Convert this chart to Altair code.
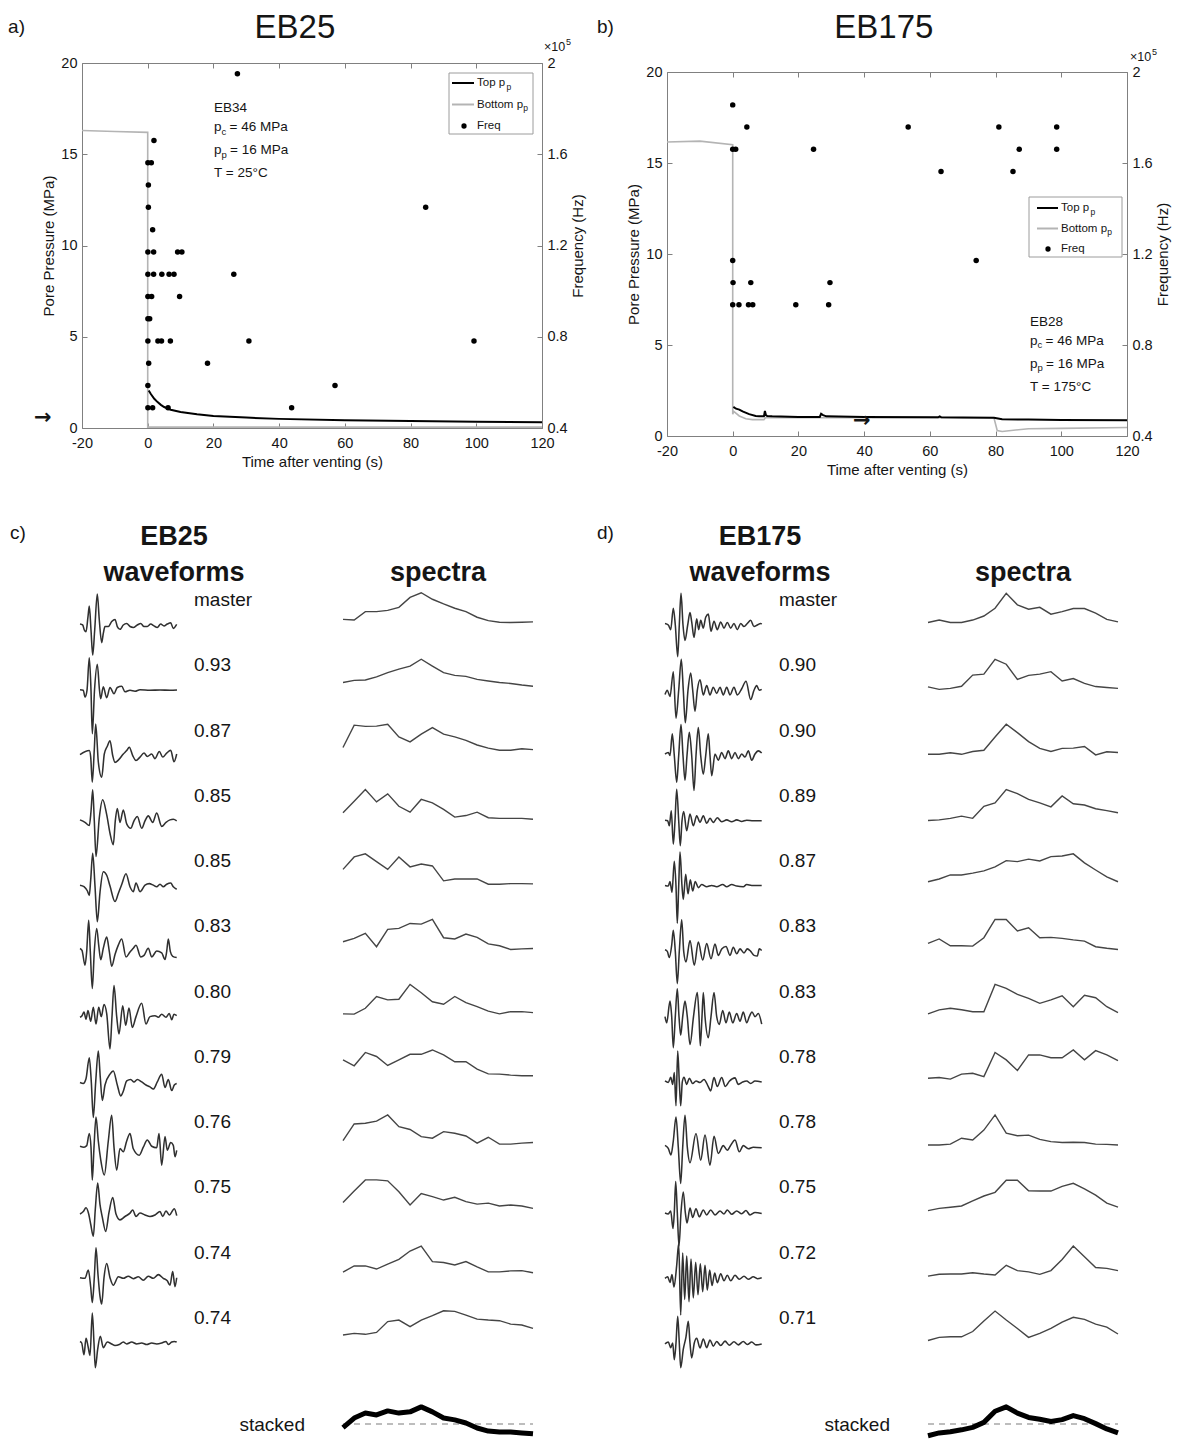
import altair as alt
import pandas as pd

W, H = 1166, 1431
FONT = "Liberation Sans"
INK = "#151515"
AXC = "#808080"
LGRAY = "#b4b4b4"
WAVEC = "#303030"
SPECC = "#454545"
ONE = alt.Data(values=[{"o": 0}])

# ---------------- panel a) EB25 ----------------
a_bottom_t = [-20, -10, 0, 0, 120]
a_bottom_p = [16.3, 16.25, 16.2, 0.05, 0.05]
a_top_t = [0.3, 1, 2, 3, 4, 5, 7, 10, 15, 20, 30, 40, 60, 80, 100, 120]
a_top_p = [2.05, 1.85, 1.6, 1.42, 1.27, 1.15, 1.0, 0.88, 0.75, 0.66, 0.57, 0.5, 0.43, 0.38, 0.34, 0.31]
a_freq_t = [27.3, 1.9, 0.05, 1.1, 0.2, 0.2, 1.5, 0.05, 1.8, 9.1, 10.4, 0.05, 1.8, 4.3, 6.5, 8.0, 26.2,
            0.05, 1.2, 9.7, 0.05, 0.6, 0.05, 3.1, 4.2, 6.9, 30.8, 99.3, 0.3, 18.2, 0.05, 57.0, 84.6,
            0.05, 1.5, 6.2, 43.8]
a_freq_hz = [195313, 166016, 156250, 156250, 146484, 136719, 126953, 117188, 117188, 117188, 117188,
             107422, 107422, 107422, 107422, 107422, 107422, 97656, 97656, 97656, 87891, 87891,
             78125, 78125, 78125, 78125, 78125, 78125, 68359, 68359, 58594, 58594, 136719,
             48828, 48828, 48828, 48828]

# ---------------- panel b) EB175 ----------------
b_bottom_t = [-20, -10, 0, 0, 0.3, 2, 4, 6, 9.5, 10, 12, 20, 27, 40, 60, 79.5, 80.5, 82, 90, 100, 120]
b_bottom_p = [16.15, 16.2, 16.0, 1.2, 1.35, 1.1, 0.95, 0.9, 0.9, 1.0, 1.0, 1.0, 1.0, 1.0, 1.0, 1.0,
              0.3, 0.25, 0.4, 0.42, 0.47]
b_top_t = [0.2, 1, 2, 3, 5, 7, 8, 9.5, 9.8, 10.1, 10.5, 12, 20, 26.5, 26.9, 27.5, 28.5, 40, 62.5, 63,
           63.5, 70, 79.5, 82, 90, 100, 120]
b_top_p = [1.6, 1.5, 1.45, 1.35, 1.2, 1.1, 1.08, 1.08, 1.38, 1.15, 1.1, 1.08, 1.05, 1.05, 1.22, 1.15,
           1.08, 1.05, 1.03, 1.08, 1.03, 1.02, 1.0, 0.92, 0.9, 0.88, 0.87]
b_freq_t = [0, 4.3, 53.4, 81, 98.6, 0, 0.9, 24.6, 87.2, 98.6, 63.4, 85.3, 0, 74.1, 0.1, 5.5, 29.6,
            0, 1.9, 4.8, 6.1, 19.2, 29.2]
b_freq_hz = [185547, 175781, 175781, 175781, 175781, 166016, 166016, 166016, 166016, 166016,
             156250, 156250, 117188, 117188, 107422, 107422, 107422, 97656, 97656, 97656, 97656,
             97656, 97656]

legend_names = ["Top p", "Bottom p", "Freq"]

# ---------------- panel c) EB25 waveforms (x in samples, amplitude) ----------------
wc0 = [(0,0.3),(2.7,0),(4.3,-1.6),(6,-2.2),(8,2.7),(9.3,6.1),(11,-1.6),(12.7,-9.7),(14.7,-1.6),(17.3,10),(19.3,1.6),(21.7,-5.7),(23.3,-2.7),(25,-0.5),(28.3,-0.5),(31.7,1.1),(35,1.8),(37.3,-0.5),(40,-1.4),(43.3,0),(46.7,0.5),(50,-0.5),(53.3,-0.8),(57.3,0),(60.7,0.5),(64,-0.5),(67.3,-0.5),(70.7,0.3),(74,-0.3),(77.3,-0.8),(80.7,0.3),(84,-0.3),(87.3,0.3),(90.7,0.7),(93.3,-1.1),(95.3,-0.5),(96.7,0.2)]
wc1 = [(0,0.2),(3.3,0),(5,-2.2),(7,0),(9.3,10.5),(11,0),(12.3,-14),(14.5,0),(17.3,8.4),(19.5,0),(20.7,-2.7),(23.3,1.1),(26.7,-2.4),(30,0.9),(34,-1.1),(37.3,0.9),(41.7,1.3),(45,-0.5),(50,0),(55,-0.3),(60,0.2),(70,0),(80,0.1),(90,0),(97,0.1)]
wc2 = [(0,0.3),(9.3,1.6),(10.7,-0.5),(12.3,-8.6),(14.3,2),(15.7,10.2),(18.3,-2),(21.7,-7),(24.3,0.5),(27.3,3),(30,4.8),(32.7,0),(35,-2.2),(38.3,-1.5),(43.3,0.5),(46.7,1.6),(49.3,2.7),(52.7,0),(56,-1.6),(60,-0.5),(64,0.8),(67.3,-0.3),(71.7,0.5),(75,-1),(79.3,1.3),(82.7,-0.5),(86.7,0.8),(90.7,1.7),(94,-2),(96.7,0.5)]
wc3 = [(0,0.3),(5,-0.5),(9.3,-1.5),(11,3),(12.7,10),(14.3,0),(16,-11.5),(19.3,1),(22.7,6.8),(26.7,2),(30,-4),(33.3,-7.7),(35.3,0),(37.3,4),(40,-0.5),(43.3,3.5),(46.7,-1),(50.7,-2.4),(54,0),(57.3,1.4),(61.7,-2.4),(65,0),(68.3,1.6),(72.7,-0.5),(76.7,2.5),(81.7,-1.8),(86,-0.5),(90,0.3),(93.3,0.5),(96.7,0)]
wc4 = [(0,0.3),(4,-0.2),(7.3,-1.5),(9.3,-3),(10.7,2),(12.7,10.6),(15,0),(17.3,-11.5),(20,-2),(23.3,4.6),(26.7,3.5),(30,0),(35,-5),(38.3,-2.4),(41.7,0.5),(46,4),(50,-0.2),(53.3,-1.8),(56,1),(60,-1.8),(65,0.3),(69.3,0.8),(73.3,0.3),(76.7,-0.2),(80,0.6),(83.3,-0.2),(86.7,0.6),(90.7,1),(93.3,-0.2),(96.7,-1)]
wc5 = [(0,0.9),(2,0.3),(5,-4.5),(6.7,0),(8.7,10),(10.3,0),(12.3,-12),(14.3,0),(16.7,7.4),(18.7,2),(20.7,-2.7),(23.3,1),(26.7,4.6),(29.3,0),(31.7,-4.8),(35,-1),(38.3,2),(41.7,4),(46,-1.8),(50,-0.2),(53.3,1),(56,2),(60.7,-1.8),(64,-1.3),(68.3,1),(71.7,-1.8),(76.7,0.1),(81.7,-0.5),(85,-2.6),(86.7,0),(88.3,4),(90.3,0),(92.7,-1.6),(96.7,-2)]
wc6 = [(0,-0.2),(2,0.3),(4,1.5),(6,-0.8),(8,2),(10.7,-1.5),(13.3,3),(16,-2.4),(18.7,3),(21.3,0),(24,3.9),(26.7,1),(30,-10.4),(32,0),(34,10),(36.7,0),(39,-5.6),(42.7,3.5),(45.7,-2.8),(49,2.8),(52.3,-3.5),(56,0),(61.7,4.3),(66,-2.4),(70,0),(75,0.3),(78.3,-0.2),(81.7,0.8),(86,-0.2),(89.3,1),(91.7,-1),(94,0.8),(96.7,0.3)]
wc7 = [(0,-0.2),(3.3,-0.5),(6,1),(9.3,7.8),(11.3,0),(13.3,-11.5),(15.7,0),(18.3,10),(20.3,1.4),(22.3,-6),(25,-1),(30,2.5),(33.3,3.5),(37.3,-1),(40.7,-4.5),(43.3,-3),(46.7,0.3),(50.7,0.8),(54,0),(57.3,0.8),(61.7,0),(66,-1),(70,-1.6),(73.3,-2.3),(77.3,0),(81.7,2.5),(85,-1.8),(88.3,0.8),(91.7,-2.8),(94.3,-1),(96.7,-0.5)]
wc8 = [(0,0.3),(4,0),(6.7,0.5),(9.3,4.4),(11,0),(12.3,-10.6),(14,0),(16,9.7),(18.3,2),(20.7,-4),(24.3,-9),(28.3,2),(31.7,10.3),(34,0),(36.7,-7.4),(40,-0.4),(43.3,-1.5),(46.7,2),(50,4.4),(53.3,-0.5),(59.3,-2.6),(63.3,0),(67.3,2.3),(71.7,0.3),(76.7,-0.2),(79,4.4),(81.7,-5.8),(85,3.4),(87.3,-1),(90.7,1.5),(93.3,0.6),(95,-3.1),(96.7,-1)]
wc9 = [(0,-0.5),(3.3,0.3),(6,1.5),(8.7,-0.5),(10.7,-3.8),(13.3,-7.7),(15.3,1),(17.7,9.5),(20,2.5),(22.3,-1.5),(25.7,-6.1),(29,0),(32.7,4.8),(36,-0.5),(40,-2.4),(45,-1.3),(50,-0.2),(52.7,0.8),(56,-1.3),(60,-0.2),(65,-0.8),(70,-1.3),(75,-0.8),(80,0.3),(82.7,-1.3),(86,0.5),(89.3,-0.8),(94.3,1.2),(96.7,-1)]
wc10 = [(0,0),(5,-0.2),(8.3,2.5),(10.7,-3),(12.3,-8),(14.3,0),(16,9.7),(18,1),(20,-6),(21.7,-8.5),(24,0),(26.7,4.6),(30,0),(33.3,-2.4),(38.3,0.3),(43.3,-0.2),(48.3,0.5),(53.3,-0.3),(58.3,0.3),(63.3,-0.8),(68.3,0.5),(73.3,-0.2),(78.3,1),(83.3,-0.2),(87.3,-1),(90,-2.4),(92.7,2),(95,-2.9),(96.7,0)]
wc11 = [(0,0.5),(1.7,0),(4,-3.8),(6,1.5),(8,-1),(10,-4),(12.3,9.7),(14,0),(15.3,-8),(17.7,-2),(20.3,2.2),(23.3,-1.5),(27.3,0.3),(31.7,-0.3),(35,-0.8),(39.3,-0.5),(43.3,0.3),(46.7,-0.3),(51.7,0.3),(56.7,-0.3),(61.7,0),(66.7,-0.5),(71.7,0),(76.7,-0.3),(81.7,0),(86,0.5),(88.3,-0.5),(91.7,0.3),(94.3,0.5),(96.7,0.3)]
waves_c = [wc0, wc1, wc2, wc3, wc4, wc5, wc6, wc7, wc8, wc9, wc10, wc11]

# ---------------- panel d) EB175 waveforms ----------------
wd0 = [(0,0.5),(3.3,0),(5.7,-1.5),(8.3,5.4),(10.3,0),(12.7,-10.2),(14.3,0),(16,10.2),(18,0),(20,-5),(22.7,0),(25,4),(26.7,1),(29,-4),(31.7,2),(33.7,-1.5),(35.7,1.5),(38.3,-1),(40.7,2.5),(43.3,3.5),(46,-2),(49,1.2),(52.3,-1.5),(55.7,1),(59,-1),(62.3,0.8),(65.7,-1),(69,0.5),(72.3,-1.5),(75.7,0.5),(79,-0.5),(82.3,0.5),(85.7,1.5),(89,-0.5),(92.3,0),(95.7,0.5),(96.7,0.3)]
wd1 = [(0,-1.4),(2.3,0),(5,-2),(8.3,6),(11,-9),(13.7,0),(16.3,10),(18.3,0),(20.3,-10.5),(23,0),(25.7,5.6),(27.7,0),(30,-6.8),(32.3,0),(35,3.4),(38.3,-1.5),(41.7,1.5),(45,-1.5),(48.3,1),(51.7,-1),(55,1),(58.3,-1.5),(61.7,1),(65,-1.5),(69,1),(72.3,-1.5),(76.7,0.5),(81,2.9),(85.7,-3),(89,0),(91.7,1.5),(94.3,0),(96.7,0.3)]
wd2 = [(0,0.5),(3.3,1),(5,0),(7.3,7),(9.3,0),(11.7,-8.6),(13.7,0),(16,10),(18,0),(20,-8),(22,0),(24.3,7.5),(26.7,0),(29,-11.3),(31,0),(33.3,9),(35.7,0),(38.3,-6),(40.7,0),(43.3,7),(45,0),(46.7,-6.5),(50,0.5),(53.3,-1.5),(56.7,1),(60,-1),(63.3,1.5),(66.7,-1),(70,1),(73.3,-1),(76.7,0.5),(80,-0.5),(83.3,1.5),(86.7,-1.5),(90,0.5),(93.3,1.5),(96.7,0.8)]
wd3 = [(0,0.2),(2.7,0),(4.3,-1.6),(6.3,3.2),(8.3,-7.5),(10,0),(11.7,10.2),(13.7,0),(15.3,-8),(17,0),(18.7,3),(21.7,-3.2),(25,2.2),(28.3,-1.6),(31.7,1.6),(35,-0.5),(38.3,1.6),(41.7,-0.8),(45,0.8),(48.3,-0.5),(52.3,1),(56.7,-0.3),(61.7,0.3),(66.7,-0.3),(71.7,0.3),(76.7,-0.2),(81.7,0.2),(88.3,0),(96.7,0)]
wd4 = [(0,0.2),(3.3,0),(5,1.5),(7,-2),(9.3,8),(11,0),(12.3,-12),(13.7,0),(15,11),(17,0),(18.3,-4.3),(20.7,3.8),(23,-2.5),(25.3,2),(27.7,-1.6),(30.3,1.5),(33.3,-0.5),(36.7,0.5),(41.7,-0.2),(46.7,0.2),(51.7,-0.2),(57.7,0.5),(61.7,-0.2),(66.7,0.5),(71.7,0),(78.3,-0.2),(81.7,0.5),(86.7,0.2),(96.7,0.2)]
wd5 = [(0,0.5),(2.3,0),(4.3,-2),(6.7,2),(8.3,6.8),(10.3,0),(12.3,-10.4),(14.3,0),(16.7,10.2),(18.7,0),(21,-3.4),(25,3.5),(29.3,-4.5),(33.3,3),(37.7,-2.8),(41.7,2.5),(46,-2.4),(50,2.4),(53.3,-1.3),(56.7,0.8),(61,1.6),(65,-1.3),(68.3,1.3),(71.7,-0.8),(75,0.8),(79,-0.5),(82.3,0.8),(85.7,0),(89,-1.3),(92.3,-1.5),(94.3,0.8),(96.7,0.3)]
wd6 = [(0,0),(1.7,-2),(5,5),(6.7,0),(8.3,-10),(10.3,0),(12.3,9),(14,0),(15.7,-6),(17.7,0),(20,5),(22.3,0),(25,-9),(28.5,0),(32.3,7.8),(34,0),(35.3,-9.4),(37,0),(38.3,7.8),(40,0),(43.3,-6.8),(46,0),(49,7.8),(51.7,0),(54.3,-2.5),(57.7,2),(61,-2),(64.3,1.5),(67.7,-2),(71.7,1),(75,-1.5),(78.3,1.5),(81.7,-2),(84.3,0),(87,1.5),(90,0),(93.3,1),(96.7,-2.4)]
wd7 = [(0,0.3),(3.3,-0.2),(5.7,1.5),(7.7,-0.8),(9.3,3),(11,-7.7),(12.7,10),(14.3,0),(15.7,-7.7),(17.3,0),(19,1.5),(21.7,-0.8),(24.3,1.2),(27.7,-0.5),(31,0.3),(35,-0.2),(39,0.8),(43.3,-1.5),(45.7,-2.9),(49,1.4),(52.3,-1.5),(56.7,1.4),(60.3,-1.5),(64.3,0.2),(70,1.3),(73.3,-0.8),(77.7,0),(81.7,0.3),(85.7,-0.5),(90,0.3),(96.7,0)]
wd8 = [(0,0.6),(3.3,-0.4),(6,-2.5),(8.3,2),(11,9.7),(13.3,0),(15.7,-11.7),(17.7,0),(20,10.3),(22.3,0),(25,-5),(31,4.4),(35.7,-4.2),(40,3.9),(45,-5.8),(49,3.5),(53.3,-2),(58.3,0.5),(62.3,-1),(65,0.2),(70,2.3),(74.3,-1.5),(78.3,0.5),(83.3,-0.5),(88.3,0),(96.7,-0.2)]
wd9 = [(0,-0.2),(3.3,-0.5),(5.7,0.5),(8,-5.2),(9.3,0),(10.7,10),(12.3,0),(14,-10.8),(16,0),(18.3,6.6),(20.3,0),(22,-3.4),(25,1.4),(27.7,-1.6),(31,1.2),(34.3,-1.4),(38.3,0.8),(41.7,-0.8),(45.7,0.8),(50,-0.8),(55,0.5),(59,-0.5),(62.3,0.8),(66.7,-0.6),(71.7,0.5),(76.7,-0.4),(81,0.6),(85,-0.8),(90,0),(96.7,-0.3)]
wd10 = [(0,-0.2),(2.7,0.3),(5,-1.5),(7,1),(9,-3),(11.7,4),(13.7,11),(15.7,-12),(17.7,8),(19.7,-7),(21.7,7),(24,-7.7),(26,6),(28.3,-6.5),(30.7,5),(33,-5.5),(35.3,4.5),(37.7,-4.5),(40,4),(42.3,-4),(44.7,2.5),(47,-2.5),(49.7,1.5),(52.3,-1.6),(55.7,1.3),(59,-1),(62.3,0.8),(65.7,-1),(70,0.8),(74.3,-0.5),(79,0.5),(83.3,-0.5),(88.3,0.3),(92.3,-0.3),(96.7,0)]
wd11 = [(0,-0.3),(3.3,0.3),(5.7,-1.5),(7.7,0),(9.3,-5.4),(11,0),(12.7,8.6),(14.3,0),(15.7,-8),(18.3,-2),(21,2),(23.3,7),(25,0),(26.7,-4.8),(29.3,0),(31.7,1.5),(35,-1.6),(38.3,1.3),(41.7,-1.5),(45,1),(48.3,-1),(51.7,0.5),(55.7,-0.8),(60,0.6),(64.3,-0.7),(69,0.4),(73.3,-0.6),(78.3,0.5),(82.3,-0.5),(86.7,0.3),(91,-0.6),(96.7,-0.3)]
waves_d = [wd0, wd1, wd2, wd3, wd4, wd5, wd6, wd7, wd8, wd9, wd10, wd11]

# ---------------- spectra (18 frequency bins each) ----------------
spectra_c = [
    [1.8,1.6,4.3,4.3,4.7,5.7,8.9,10.4,8.3,6.8,5.4,4.3,2.5,1.4,0.9,0.8,0.9,1.0],
    [2.5,3.2,3.3,4.3,5.7,6.8,7.8,10,7.8,5.7,4.8,4.5,3.5,3.0,2.5,2.2,1.7,1.3],
    [2.6,9.8,9.4,9.5,10.1,6.0,4.4,6.9,9.0,6.9,6.0,4.9,3.4,2.4,1.7,1.7,2.2,1.9],
    [2.6,6.3,10.1,6.1,8.7,4.7,2.8,6.9,5.8,3.7,1.2,1.7,2.8,1.0,0.8,0.8,0.8,0.5],
    [5.4,9.4,10.4,7.9,5.4,9.4,6.2,7.1,6.5,1.7,2.3,2.3,2.3,0.6,0.6,0.8,0.8,0.7],
    [3.1,4.2,5.8,1.5,7.1,7.4,9.0,8.8,10.3,4.4,4.0,5.6,4.5,2.4,1.8,0.6,0.8,0.9],
    [0.9,0.8,2.7,6.5,5.4,5.6,10.4,7.7,4.8,4.0,6.5,4.5,3.2,1.8,0.9,1.6,1.6,1.3],
    [7.1,5.2,9.5,8.2,5.3,7.1,8.9,8.9,10.3,8.7,6.5,6.5,4.1,2.6,2.5,2.2,2.0,2.0],
    [2.1,7.5,7.7,8.4,10.4,6.6,5.7,3.4,2.9,5.0,4.5,3.6,1.3,3.2,1.0,1.0,1.3,1.5],
    [3.2,6.9,10.5,10.5,10.2,6.7,2.4,6.1,5.1,4.0,4.9,3.5,2.7,3.0,2.1,2.4,2.1,1.3],
    [1.8,3.8,3.8,2.8,4.4,5.9,8.6,10.2,5.2,4.9,4.1,5.2,3.5,1.9,1.9,2.2,2.3,1.6],
    [2.6,3.1,2.8,3.4,6.9,7.4,5.3,7.4,8.8,10.4,10.2,9.0,7.7,7.4,7.2,6.1,5.8,4.7],
]
spectra_d = [
    [0.8,1.6,0.8,0.8,1.6,2.9,5.4,10.2,6.5,5.1,5.7,3.5,4.3,5.3,5.3,3.8,1.8,1.0],
    [1.1,0.3,0.6,1.3,4.9,5.2,10.0,8.4,3.5,4.8,5.2,6.0,3.0,3.8,2.2,1.2,0.9,0.6],
    [0.4,0.4,0.9,0.4,1.3,1.7,6.0,10.1,7.4,4.5,2.3,1.3,2.3,2.4,2.9,0.2,1.2,1.0],
    [0.1,0.3,0.8,1.5,0.8,4.7,5.8,10.1,8.8,6.9,5.8,4.5,8.0,5.5,5.1,3.9,3.3,2.6],
    [1.4,2.3,3.6,3.6,4.2,4.9,6.2,8.2,7.9,8.7,8.1,9.5,9.7,10.4,7.5,5.2,3.0,1.4],
    [2.6,4.0,1.8,1.8,1.7,4.4,10.3,10.3,6.6,7.6,4.4,4.5,4.2,3.7,3.3,1.5,1.0,0.6],
    [0.9,2.2,2.7,2.2,1.6,1.6,10.4,9.1,7.2,5.9,4.3,5.4,6.7,3.2,6.9,6.1,3.2,1.3],
    [1.2,1.4,0.9,2.5,2.8,1.7,9.5,7.1,3.7,8.7,8.7,7.8,7.8,10.3,7.1,10.1,8.7,6.9],
    [0.7,0.7,1.0,2.9,2.3,5.5,10.4,4.5,3.7,3.9,2.5,1.8,1.5,1.6,1.5,1.0,0.9,0.7],
    [0.6,1.3,1.7,2.1,3.7,5.3,6.5,10.4,10.4,7.0,6.9,6.9,8.4,9.4,7.6,5.6,3.0,1.7],
    [0.5,1.1,1.2,1.2,1.6,1.2,0.9,4.0,2.3,1.9,1.1,2.3,5.9,10.2,6.8,3.3,3.0,2.3],
    [0.8,1.8,2.0,2.0,3.7,7.1,10.3,7.4,4.7,1.8,3.1,4.7,6.7,8.3,7.6,6.1,5.1,2.9],
]
stacked_c = [-1.2,1.9,3.5,2.9,4.2,3.5,3.9,5.5,3.9,1.9,1.3,0.3,-1.3,-2.3,-2.6,-2.6,-2.9,-3.2]
stacked_d = [-3.8,-2.9,-2.5,-1.9,-1.1,0.5,4.1,5.5,3.5,2.1,1.5,0.8,1.4,2.7,1.7,0.1,-1.6,-2.9]

labels_c = ["master", "0.93", "0.87", "0.85", "0.85", "0.83", "0.80", "0.79", "0.76", "0.75", "0.74", "0.74"]
labels_d = ["master", "0.90", "0.90", "0.89", "0.87", "0.83", "0.83", "0.78", "0.78", "0.75", "0.72", "0.71"]


# ---------------- helpers ----------------
def S(dom, rng):
    return alt.Scale(domain=list(dom), range=list(rng), nice=False, zero=False)


def T(text, x, y, xs, ys, size=13.5, align="left", baseline="middle", weight="normal", dx=0, dy=0,
      color=INK, font=FONT):
    return alt.Chart(ONE).mark_text(
        text=text, font=font, fontSize=size, align=align, baseline=baseline,
        fontWeight=weight, dx=dx, dy=dy, color=color
    ).encode(
        x=alt.XDatum(x, type="quantitative", scale=xs, axis=None),
        y=alt.YDatum(y, type="quantitative", scale=ys, axis=None),
    )


AXSTYLE = dict(domainColor=AXC, tickColor=AXC, labelColor=INK, titleColor=INK, labelFont=FONT,
               titleFont=FONT, labelFontSize=14.5, titleFontSize=15, titleFontWeight="normal",
               grid=False, domainWidth=1, tickWidth=1, labelFlush=False, labelOverlap=False)


def top_panel(P):
    xs = S([-20, 120], [P["xl"], P["xr"]])
    ys = S([0, 20], [P["yb"], P["yt"]])
    fs = S([40000, 200000], [P["yb"], P["yt"]])
    tx = list(range(-20, 121, 20))
    ty = [0, 5, 10, 15, 20]
    tf = [40000, 80000, 120000, 160000, 200000]
    bot = pd.DataFrame({"t": P["bot_t"], "p": P["bot_p"], "i": range(len(P["bot_t"]))})
    top = pd.DataFrame({"t": P["top_t"], "p": P["top_p"], "i": range(len(P["top_t"]))})
    fr = pd.DataFrame({"t": P["f_t"], "f": P["f_hz"]})

    gray = alt.Chart(bot).mark_line(color=LGRAY, strokeWidth=1.6).encode(
        x=alt.X("t:Q", scale=xs, axis=alt.Axis(orient="bottom", offset=P["yb"] - H, values=tx, ticks=False,
                                                labelExpr="'' + datum.value",
                                                labelPadding=8.5, title="Time after venting (s)", titlePadding=4, **AXSTYLE)),
        y=alt.Y("p:Q", scale=ys, axis=alt.Axis(orient="left", offset=-P["xl"], values=ty, ticks=False,
                                                labelPadding=5, title="Pore Pressure (MPa)", titlePadding=4.5, **AXSTYLE)),
        order="i:Q")
    black = alt.Chart(top).mark_line(color="black", strokeWidth=2).encode(
        x=alt.X("t:Q", scale=xs, axis=None), y=alt.Y("p:Q", scale=ys, axis=None), order="i:Q")
    pts = alt.Chart(fr).mark_circle(size=30, color="black", opacity=1).encode(
        x=alt.X("t:Q", scale=xs, axis=alt.Axis(orient="top", offset=-P["yb"], values=tx, labels=False, domain=False,
                                                tickSize=5, title=None, **AXSTYLE)),
        y=alt.Y("f:Q", scale=fs, axis=alt.Axis(orient="right", offset=P["xr"] - W, values=tf, ticks=False,
                                                labelPadding=5, labelExpr="format(datum.value/100000, '~g')",
                                                title="Frequency (Hz)", titleAngle=270, titleBaseline="top",
                                                titlePadding=3.5, **AXSTYLE)))
    frame1 = alt.Chart(bot).mark_point(opacity=0).encode(
        x=alt.X("t:Q", scale=xs, axis=alt.Axis(orient="bottom", offset=P["yt"] - H, values=tx, labels=False,
                                                tickSize=5, title=None, **AXSTYLE)),
        y=alt.Y("p:Q", scale=ys, axis=alt.Axis(orient="right", offset=P["xl"] - W, values=ty, labels=False,
                                                domain=False, tickSize=5, title=None, **AXSTYLE)))
    frame2 = alt.Chart(fr).mark_point(opacity=0).encode(
        x=alt.X("t:Q", scale=xs, axis=None),
        y=alt.Y("f:Q", scale=fs, axis=alt.Axis(orient="left", offset=-P["xr"], values=tf, labels=False,
                                                domain=False, tickSize=5, title=None, **AXSTYLE)))
    layers = [gray, black, pts, frame1, frame2]

    # legend box
    lx = S([0, P["lw"]], [P["lx"], P["lx"] + P["lw"]])
    ly = S([0, P["lh"]], [P["ly"], P["ly"] + P["lh"]])
    lr = S([0, 2], [P["lr0"], P["lr2"]])
    s0, s1, sdot, stxt = P["sym"]
    box = alt.Chart(ONE).mark_rect(fill="white", stroke="#9c9c9c", strokeWidth=1).encode(
        x=alt.XDatum(0, type="quantitative", scale=lx, axis=None), x2=alt.X2Datum(P["lw"]),
        y=alt.YDatum(0, type="quantitative", scale=ly, axis=None), y2=alt.Y2Datum(P["lh"]))
    key_top = alt.Chart(ONE).mark_rule(color="black", strokeWidth=2).encode(
        x=alt.XDatum(s0, type="quantitative", scale=lx, axis=None), x2=alt.X2Datum(s1),
        y=alt.YDatum(0, type="quantitative", scale=lr, axis=None))
    key_bot = alt.Chart(ONE).mark_rule(color=LGRAY, strokeWidth=2).encode(
        x=alt.XDatum(s0, type="quantitative", scale=lx, axis=None), x2=alt.X2Datum(s1),
        y=alt.YDatum(1, type="quantitative", scale=lr, axis=None))
    key_dot = alt.Chart(ONE).mark_circle(size=28, color="black", opacity=1).encode(
        x=alt.XDatum(sdot, type="quantitative", scale=lx, axis=None),
        y=alt.YDatum(2, type="quantitative", scale=lr, axis=None))
    names = alt.Chart(pd.DataFrame({"name": legend_names, "row": [0, 1, 2]})).mark_text(
        align="left", baseline="middle", font=FONT, fontSize=11.5, color=INK).encode(
        x=alt.XDatum(stxt, type="quantitative", scale=lx, axis=None),
        y=alt.Y("row:Q", scale=lr, axis=None), text="name:N")
    sub1 = T("p", stxt, 0, lx, lr, size=8.5, dx=29.6, dy=3.5)
    sub2 = T("p", stxt, 1, lx, lr, size=8.5, dx=46.2, dy=3.5)
    layers += [box, key_top, key_bot, key_dot, names, sub1, sub2]

    # annotation block
    at = P["ann_t"]
    l0, l1, l2, l3 = P["ann_p"]
    layers += [
        T(P["ann_id"], at, l0, xs, ys),
        T("p", at, l1, xs, ys), T("c", at, l1, xs, ys, size=9.5, dx=7.4, dy=4.5), T("= 46 MPa", at, l1, xs, ys, dx=15.5),
        T("p", at, l2, xs, ys), T("p", at, l2, xs, ys, size=9.5, dx=7.4, dy=4.5), T("= 16 MPa", at, l2, xs, ys, dx=16),
        T(P["ann_T"], at, l3, xs, ys),
    ]
    # titles, panel letter, arrow, exponent
    layers += [
        T(P["title"], P["title_t"], P["title_p"], xs, ys, size=33, align="center"),
        T(P["letter"], P["letter_t"], P["letter_p"], xs, ys, size=19),
        T("\u2192", P["arrow_t"], P["arrow_p"], xs, ys, size=21, align="center", weight="bold",
          font="DejaVu Sans"),
        T("\u00d710", P["exp_t"], P["exp_p"], xs, ys, size=12.5),
        T("5", P["exp_t"], P["exp_p"], xs, ys, size=9, dx=22, dy=-5),
    ]
    return layers


def long_waves(waves):
    rows = []
    for r, w in enumerate(waves):
        for i, (x, a) in enumerate(w):
            rows.append({"row": r, "i": i, "x": x, "a": a})
    return pd.DataFrame(rows)


def long_spectra(spec):
    rows = []
    for r, s in enumerate(spec):
        for k, v in enumerate(s):
            rows.append({"row": r, "k": k, "s": v})
    return pd.DataFrame(rows)


def bottom_panel(Q):
    wx = S([0, 100], [Q["wx0"], Q["wx0"] + 100])
    sx = S([0, 17], [Q["sx0"], Q["sx0"] + 190])
    ry = S([0, 11], [617, 1335])
    wave = alt.Chart(long_waves(Q["waves"])).transform_calculate(
        yy="datum.row - datum.a * 0.0475").mark_line(
        interpolate="monotone", color=WAVEC, strokeWidth=1.55).encode(
        x=alt.X("x:Q", scale=wx, axis=None), y=alt.Y("yy:Q", scale=ry, axis=None),
        detail="row:N", order="i:Q")
    spec = alt.Chart(long_spectra(Q["spectra"])).transform_calculate(
        yy="datum.row - datum.s * 0.0475").mark_line(color=SPECC, strokeWidth=1.4).encode(
        x=alt.X("k:Q", scale=sx, axis=None), y=alt.Y("yy:Q", scale=ry, axis=None),
        detail="row:N", order="k:Q")
    labs = alt.Chart(pd.DataFrame({"row": range(12), "label": Q["labels"]})).transform_calculate(
        yy="datum.row - 0.383").mark_text(align="left", baseline="middle", font=FONT, fontSize=19, color=INK).encode(
        x=alt.XDatum(114, type="quantitative", scale=wx, axis=None),
        y=alt.Y("yy:Q", scale=ry, axis=None), text="label:N")
    dash = alt.Chart(ONE).mark_rule(color="#a8a8a8", strokeWidth=1.5, strokeDash=[6, 5]).encode(
        x=alt.XDatum(0, type="quantitative", scale=sx, axis=None), x2=alt.X2Datum(17),
        y=alt.YDatum(12.24, type="quantitative", scale=ry, axis=None))
    stack = alt.Chart(pd.DataFrame({"k": range(18), "s": Q["stacked"]})).transform_calculate(
        yy="12.24 - datum.s * 0.0475").mark_line(color="black", strokeWidth=5, strokeJoin="round").encode(
        x=alt.X("k:Q", scale=sx, axis=None), y=alt.Y("yy:Q", scale=ry, axis=None), order="k:Q")
    return [
        wave, spec, labs, dash, stack,
        T("stacked", 225, 12.26, wx, ry, size=19, align="right"),
        T(Q["name"], Q["hx"], -1.348, wx, ry, size=27, align="center", weight="bold"),
        T("waveforms", Q["hx"], -0.797, wx, ry, size=27, align="center", weight="bold"),
        T("spectra", 8.5, -0.797, sx, ry, size=27, align="center", weight="bold"),
        T(Q["letter"], Q["lx"], -1.41, wx, ry, size=19),
    ]


PA = dict(xl=74, xr=534, yb=420, yt=55, bot_t=a_bottom_t, bot_p=a_bottom_p, top_t=a_top_t, top_p=a_top_p,
          f_t=a_freq_t, f_hz=a_freq_hz, lx=441, lw=84, ly=65, lh=61, lr0=75, lr2=118, sym=(3, 25, 15, 28),
          ann_t=20.2, ann_p=(17.53, 16.49, 15.23, 13.97), ann_id="EB34", ann_T="T = 25\u00b0C",
          title="EB25", title_t=44.8, title_p=21.92, letter="a)", letter_t=-42.5, letter_p=21.97,
          arrow_t=-31.9, arrow_p=0.55, exp_t=120.6, exp_p=20.85)
PB = dict(xl=659, xr=1119, yb=428, yt=64, bot_t=b_bottom_t, bot_p=b_bottom_p, top_t=b_top_t, top_p=b_top_p,
          f_t=b_freq_t, f_hz=b_freq_hz, lx=1021, lw=93, ly=189, lh=60, lr0=200, lr2=241, sym=(8, 29, 19, 32),
          ann_t=90.5, ann_p=(6.26, 5.22, 3.96, 2.69), ann_id="EB28", ann_T="T = 175\u00b0C",
          title="EB175", title_t=46.0, title_p=22.42, letter="b)", letter_t=-41.3, letter_p=22.47,
          arrow_t=39.3, arrow_p=0.82, exp_t=120.9, exp_p=20.85)
QC = dict(wx0=72, sx0=335, waves=waves_c, spectra=spectra_c, stacked=stacked_c, labels=labels_c,
          name="EB25", hx=94, letter="c)", lx=-70)
QD = dict(wx0=657, sx0=920, waves=waves_d, spectra=spectra_d, stacked=stacked_d, labels=labels_d,
          name="EB175", hx=95, letter="d)", lx=-68)

layers = top_panel(PA) + top_panel(PB) + bottom_panel(QC) + bottom_panel(QD)

chart = alt.layer(*layers).resolve_scale(
    x="independent", y="independent"
).properties(
    width=W, height=H, autosize=alt.AutoSizeParams(type="none"), padding=0, background="white"
).configure_view(stroke=None)

chart.save("out.html", embed_options={"renderer": "svg", "actions": False})
